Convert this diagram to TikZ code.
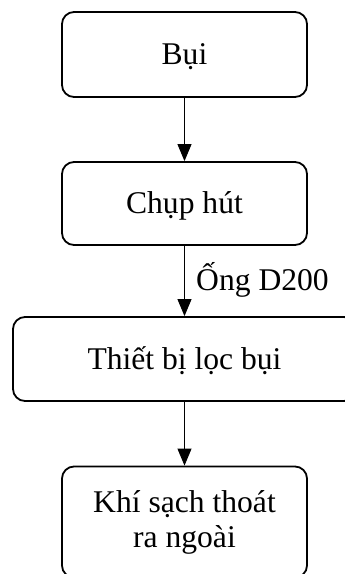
\documentclass[tikz,border=0pt]{standalone}
\usepackage{fontspec}
\setmainfont{Liberation Serif}
\usetikzlibrary{arrows.meta}
\begin{document}
\begin{tikzpicture}[x=1pt,y=-1pt,
  box/.style={draw, line width=1.8pt, rounded corners=12pt, minimum width=245pt,
    inner sep=0pt, text height=20.7pt, text depth=0pt,
    font=\fontsize{31.6}{35}\selectfont},
  flow/.style={line width=0.9pt, -{Triangle[length=17pt,width=14pt]}},
  lbl/.style={font=\fontsize{31.6}{35}\selectfont, inner sep=0pt, anchor=base west}]
\useasboundingbox (0,0) rectangle (345,574);
\clip (0,0) rectangle (345,574);
\node[box, minimum height=85pt] (b1) at (184.5,54.5) {Bụi};
\node[box, minimum height=83pt] (b2) at (184.5,203.5) {Chụp hút};
\node[box, minimum height=84pt, minimum width=343pt] (b3) at (184.5,359) {Thiết bị lọc bụi};
\node[box, minimum height=111pt, align=center, text height=, text depth=] (b4) at (184.5,522) {Khí sạch thoát\\ra ngoài};
\draw[flow] (b1) -- (b2);
\draw[flow] (b2) -- (b3);
\draw[flow] (b3) -- (b4);
\node[lbl] (l1) at (196,290) {Ống D200};
\end{tikzpicture}
\end{document}
